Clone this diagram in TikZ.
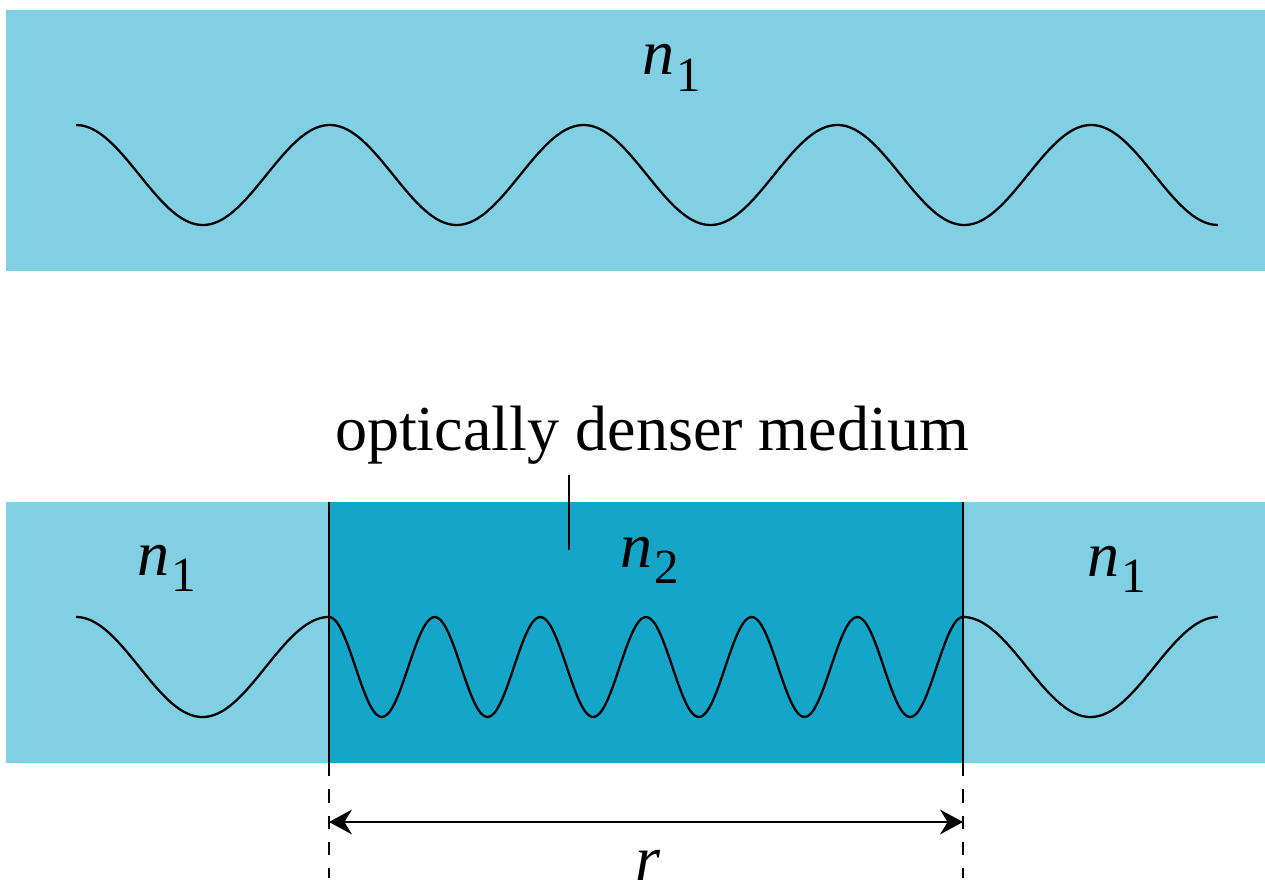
\documentclass[tikz,border=0pt]{standalone}
\usepackage{fontspec}
\setmainfont{LiberationSerif}[Extension=.ttf,UprightFont=*-Regular,ItalicFont=*-Italic,BoldFont=*-Bold,BoldItalicFont=*-BoldItalic]
\usetikzlibrary{arrows.meta}
\definecolor{thinmed}{RGB}{128,207,226}
\definecolor{densemed}{RGB}{20,165,200}
\newcommand{\refidx}[1]{\textit{n}\kern1pt\raisebox{-9.5pt}{\fontsize{28}{30}\selectfont #1}}

\begin{document}
\begin{tikzpicture}[x=0.02cm,y=-0.02cm,line width=1.3pt,
  lbl/.style={font=\fontsize{36.5}{40}\selectfont,inner sep=0pt,anchor=base},
  wave/.style={smooth,samples=240}]
\useasboundingbox (0,0) rectangle (1265,882);
% media
\fill[thinmed] (6,10) rectangle (1265,271);
\fill[thinmed] (6,502) rectangle (1265,763);
\fill[densemed] (329,502) rectangle (963,763);
% waves
\draw[wave] plot[domain=76:1218] (\x,{175-50*cos((\x-76)/253.78*360)});
\draw[wave] plot[domain=76:329] (\x,{667-50*cos((\x-76)/253*360)});
\draw[wave] plot[domain=329:963] (\x,{667-50*cos((\x-329)/634*2160)});
\draw[wave] plot[domain=963:1218] (\x,{667-50*cos((\x-963)/255*360)});
% labels
\node[lbl] (topidx) at (672,75) {\refidx{1}};
\node[lbl] (leftidx) at (167,575) {\refidx{1}};
\node[lbl] (denseidx) at (650,567) {\refidx{2}};
\node[lbl] (rightidx) at (1117,576) {\refidx{1}};
\node[lbl] (dense) at (652,450) {optically denser medium};
\coordinate (ptrtop) at (569,475);
\coordinate (ptrbot) at (569,550);
\draw (ptrtop) -- (ptrbot);
% boundaries
\coordinate (lefttop) at (329,502);
\coordinate (leftmid) at (329,763);
\coordinate (leftbot) at (329,878);
\coordinate (righttop) at (963,502);
\coordinate (rightmid) at (963,763);
\coordinate (rightbot) at (963,878);
\draw (lefttop) -- (leftmid);
\draw (righttop) -- (rightmid);
\draw[dash pattern=on 7.5pt off 7.5pt] (leftmid) -- (leftbot);
\draw[dash pattern=on 7.5pt off 7.5pt] (rightmid) -- (rightbot);
\coordinate (arrl) at (329,822);
\coordinate (arrr) at (963,822);
\draw[{Stealth[length=13pt,width=14pt]}-{Stealth[length=13pt,width=14pt]}] (arrl) -- (arrr);
\node[lbl] (len) at (648,880) {\textit{r}};
\end{tikzpicture}
\end{document}
